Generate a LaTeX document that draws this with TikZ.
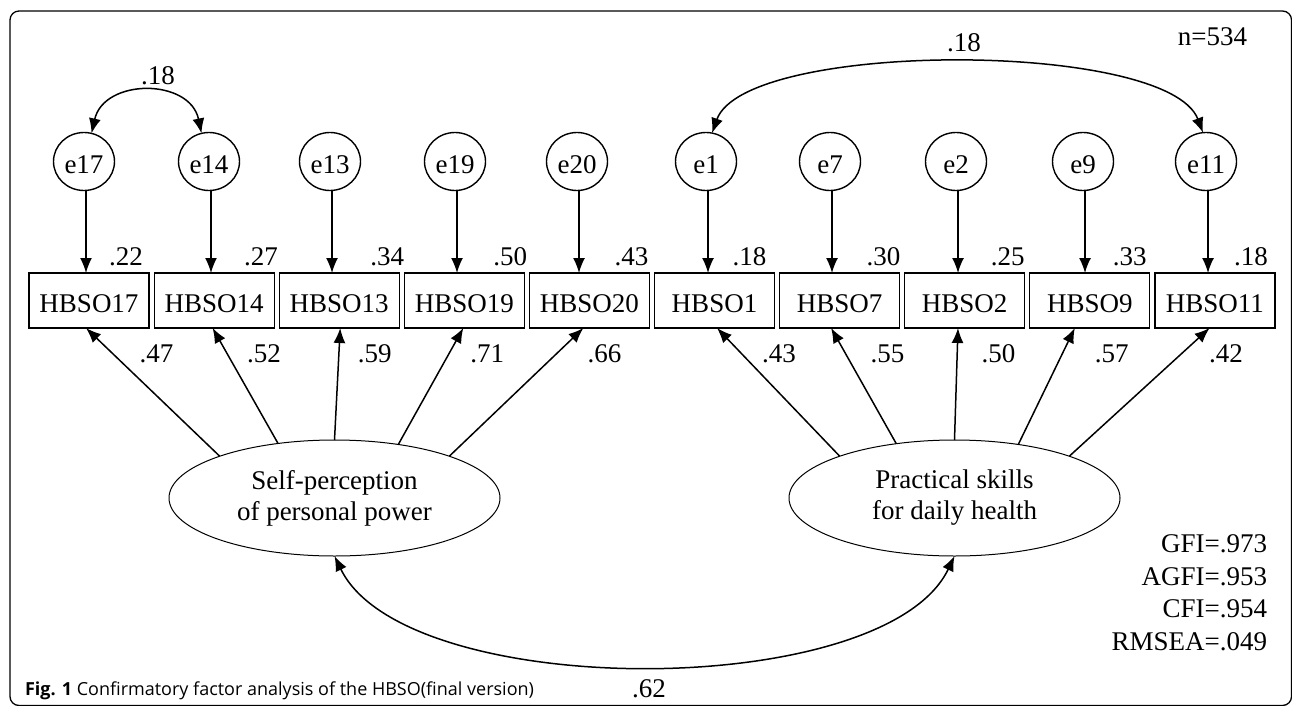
\documentclass[tikz,border=0pt]{standalone}
\usepackage{fontspec}
\setmainfont{Liberation Serif}
\newfontfamily\capfont{Open Sans}
\usetikzlibrary{arrows.meta,shapes.geometric,calc}
\begin{document}
\begin{tikzpicture}[x=1pt,y=-1pt,
  every node/.style={inner sep=0pt, outer sep=0pt},
  txt/.style={font=\fontsize{27}{31}\selectfont},
  obs/.style={draw, line width=1.2pt, minimum width=120pt, minimum height=55pt,
    font=\fontsize{27}{31}\selectfont, text height=24pt, text depth=0pt},
  err/.style={draw, ellipse, line width=1.4pt, minimum width=61pt, minimum height=58pt,
    font=\fontsize{27}{31}\selectfont, text height=24pt, text depth=0pt},
  lat/.style={draw, ellipse, line width=1pt, minimum width=331pt, minimum height=116pt,
    align=center, font=\fontsize{27}{31}\selectfont},
  arr/.style={line width=1.5pt, -{Latex[length=15pt,width=12pt]}},
  darr/.style={line width=1.5pt, {Latex[length=15pt,width=12pt]}-{Latex[length=15pt,width=12pt]}},
]
\useasboundingbox (0,0) rectangle (1292,706);
% frame
\draw[line width=1.3pt, rounded corners=9pt] (10,11) rectangle (1291.5,705.5);

% observed boxes
\foreach \n/\t [count=\i from 0] in {b17/HBSO17,b14/HBSO14,b13/HBSO13,b19/HBSO19,b20/HBSO20,b1/HBSO1,b7/HBSO7,b2/HBSO2,b9/HBSO9,b11/HBSO11}
  \node[obs] (\n) at ({89+125.1*\i},300.5) {\t};

% error circles
\foreach \n/\t/\x in {e17/e17/84,e14/e14/209,e13/e13/330,e19/e19/455,e20/e20/577,e1/e1/706,e7/e7/830,e2/e2/956,e9/e9/1083,e11/e11/1206}
  \node[err] (\n) at (\x,161.5) {\t};

% error arrows
\foreach \e/\b in {e17/b17,e14/b14,e13/b13,e19/b19,e20/b20,e1/b1,e7/b7,e2/b2,e9/b9,e11/b11}
  \draw[arr] ([xshift=2pt]\e.south) -- ([xshift=2pt]\e.south |- \b.north);

% variance labels
\foreach \b/\dx/\t [count=\i] in {b17/37/.22,b14/47/.27,b13/48/.34,b19/46/.50,b20/42/.43,b1/35/.18,b7/44/.30,b2/43/.25,b9/40/.33,b11/36/.18}
  \node[txt, anchor=base] (v\i) at ($(\b.north)+(\dx,-8)$) {\t};

% latent variables
\node[lat] (L) at (334.5,498) {Self-perception\\of personal power};
\node[lat] (R) at (954.5,498) {Practical skills\\for daily health};

% loadings
\draw[arr] (L.160) -- ([xshift=-3pt]b17.south);
\draw[arr] (L.136) -- ([xshift=-1.5pt]b14.south);
\draw[arr] (L.90) -- ([xshift=1pt]b13.south);
\draw[arr] (L.40) -- ([xshift=-1pt]b19.south);
\draw[arr] (L.20) -- ([xshift=-6pt]b20.south);
\draw[arr] (R.160) -- ([xshift=2.5pt]b1.south);
\draw[arr] (R.137) -- ([xshift=-8.5pt]b7.south);
\draw[arr] (R.90) -- ([xshift=-6.7pt]b2.south);
\draw[arr] (R.40) -- ([xshift=-15pt]b9.south);
\draw[arr] (R.20) -- ([xshift=-5.3pt]b11.south);

\foreach \b/\dx/\t [count=\i] in {b17/67.6/.47,b14/50/.52,b13/35.6/.59,b19/23/.71,b20/15/.66,b1/64.5/.43,b7/47.8/.55,b2/33.7/.50,b9/22/.57,b11/11/.42}
  \node[txt, anchor=base] (l\i) at ($(\b.south)+(\dx,34)$) {\t};

% covariances
\draw[darr] (e17.75) .. controls (104,78) and (190,78) .. (e14.105);
\node[txt, anchor=base] (c1) at (158,85) {.18};
\draw[darr] (e1.78) .. controls (745,40) and (1168,40) .. (e11.96);
\node[txt, anchor=base] (c2) at (964,52) {.18};
\draw[darr] (L.south) .. controls (405,702) and (885,702) .. (R.south);
\node[txt, anchor=base] (c3) at (649,697) {.62};

% n and fit indices
\node[txt, anchor=base east] (n) at (1247,46) {n=534};
\node[txt, anchor=base east] (f1) at (1267,552) {GFI=.973};
\node[txt, anchor=base east] (f2) at (1267,585) {AGFI=.953};
\node[txt, anchor=base east] (f3) at (1267,617) {CFI=.954};
\node[txt, anchor=base east] (f4) at (1267,650) {RMSEA=.049};

% caption
\node[anchor=base west, font=\capfont\fontsize{18}{22}\selectfont] (cap) at (25,695)
  {\textbf{Fig. 1} Confirmatory factor analysis of the HBSO(final version)};
\end{tikzpicture}
\end{document}
